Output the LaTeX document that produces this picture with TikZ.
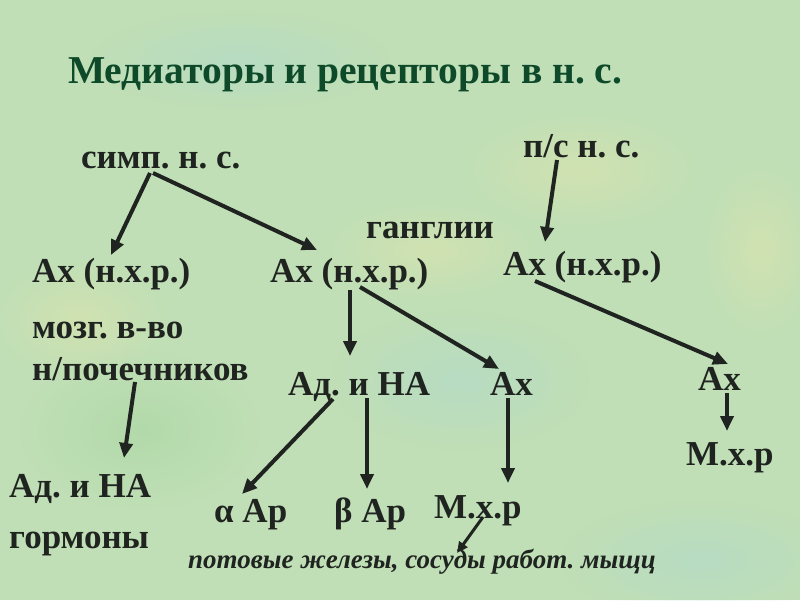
\documentclass[tikz,border=0pt]{standalone}
\usepackage{fontspec}
\setmainfont{Liberation Serif}
\usetikzlibrary{arrows.meta,fadings}
\definecolor{bggreen}{HTML}{C0DFB6}
\definecolor{blobyellow}{HTML}{DDE4AE}
\definecolor{blobblue}{HTML}{B2DACB}
\definecolor{blobgreen}{HTML}{A9D6A2}
\definecolor{titlegreen}{HTML}{0E4A2A}
\definecolor{inkgray}{HTML}{202420}
\tikzfading[name=blobfade, inner color=transparent!0, outer color=transparent!100]
\tikzset{
  lbl/.style={anchor=base west, inner sep=0pt, text=inkgray, font=\fontsize{35}{40}\selectfont\bfseries\frenchspacing},
  ttl/.style={anchor=base west, inner sep=0pt, text=titlegreen, font=\fontsize{39.5}{44}\selectfont\bfseries\frenchspacing},
  note/.style={anchor=base west, inner sep=0pt, text=inkgray, font=\fontsize{27}{31}\selectfont\bfseries\itshape\frenchspacing},
  arr/.style={draw=inkgray, line width=4pt, -{Triangle[length=15pt,width=13pt]}},
  blob/.style={path fading=blobfade, opacity=0.6}
}
\begin{document}
\begin{tikzpicture}[x=1pt,y=-1pt]
\useasboundingbox (0,0) rectangle (800,600);
\fill[bggreen] (0,0) rectangle (800,600);
\fill[blob, fill=blobyellow] (580,170) ellipse (120 and 60);
\fill[blob, fill=blobblue] (240,60) ellipse (150 and 50);
\fill[blob, fill=blobblue] (460,380) ellipse (130 and 70);
\fill[blob, fill=blobgreen] (140,430) ellipse (120 and 80);
\fill[blob, fill=blobyellow] (80,320) ellipse (90 and 60);
\fill[blob, fill=blobblue] (700,560) ellipse (140 and 60);
\fill[blob, fill=blobyellow] (430,250) ellipse (110 and 50);
\fill[blob, fill=blobyellow] (760,250) ellipse (60 and 90);

\node[ttl] (title) at (68,83) {Медиаторы и рецепторы в н. с.};
\node[lbl] (simp) at (81,168) {симп. н. с.};
\node[lbl] (ps) at (523,157) {п/с н. с.};
\node[lbl] (gang) at (366,238) {ганглии};
\node[lbl] (axL) at (32,282) {Ах (н.х.р.)};
\node[lbl] (axM) at (270,282) {Ах (н.х.р.)};
\node[lbl] (axR) at (503,275) {Ах (н.х.р.)};
\node[lbl] (mozg) at (32,338) {мозг. в-во};
\node[lbl] (npoch) at (32,380) {н/почечников};
\node[lbl] (adM) at (288,395) {Ад. и НА};
\node[lbl] (axM2) at (490,395) {Ах};
\node[lbl] (axR2) at (698,390) {Ах};
\node[lbl] (mxrR) at (686,465) {М.х.р};
\node[lbl] (adL) at (9,497) {Ад. и НА};
\node[lbl] (horm) at (9,548) {гормоны};
\node[lbl] (alpha) at (214,522) {α Ар};
\node[lbl] (beta) at (334,522) {β Ар};
\node[lbl] (mxrM) at (434,518) {М.х.р};
\node[note] (pot) at (188,568) {потовые железы, сосуды работ. мыщц};

\coordinate (t1) at (150,173); \coordinate (h1) at (111,255);
\coordinate (t2) at (153,173); \coordinate (h2) at (317,250);
\coordinate (t3) at (557,160); \coordinate (h3) at (545,242);
\coordinate (t4) at (350,290); \coordinate (h4) at (350,356);
\coordinate (t5) at (360,287); \coordinate (h5) at (499,369);
\coordinate (t6) at (535,281); \coordinate (h6) at (728,364);
\coordinate (t7) at (135,382); \coordinate (h7) at (124,458);
\coordinate (t8) at (333,399); \coordinate (h8) at (242,494);
\coordinate (t9) at (367,398); \coordinate (h9) at (367,489);
\coordinate (t10) at (508,398); \coordinate (h10) at (508,483);
\coordinate (t11) at (727,393); \coordinate (h11) at (727,431);
\coordinate (t12) at (483,517); \coordinate (h12) at (457,553);

\draw[arr] (t1) -- (h1);
\draw[arr] (t2) -- (h2);
\draw[arr] (t3) -- (h3);
\draw[arr] (t4) -- (h4);
\draw[arr] (t5) -- (h5);
\draw[arr] (t6) -- (h6);
\draw[arr] (t7) -- (h7);
\draw[arr] (t8) -- (h8);
\draw[arr] (t9) -- (h9);
\draw[arr] (t10) -- (h10);
\draw[arr] (t11) -- (h11);
\draw[arr, line width=3pt, -{Triangle[length=11pt,width=10pt]}] (t12) -- (h12);
\end{tikzpicture}
\end{document}
